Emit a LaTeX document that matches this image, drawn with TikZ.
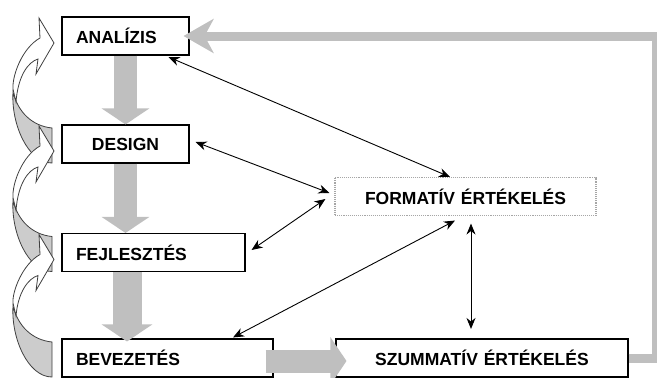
\documentclass[tikz,border=0pt]{standalone}
\usepackage{fontspec}
\setmainfont{Liberation Sans}
\usetikzlibrary{arrows.meta}

\begin{document}
\begin{tikzpicture}[x=1pt, y=-1pt,
  box/.style={draw, line width=1.1pt, fill=white, minimum height=38pt, inner xsep=14pt, inner ysep=0pt, align=left, font=\bfseries\fontsize{17.5}{20}\selectfont},
  fbox/.style={box, draw=gray!70, densely dotted, align=center},
  flow/.style={draw=gray!50, line width=23pt, -{Triangle[length=16pt,width=47pt]}},
  dbl/.style={line width=0.9pt, {Stealth[length=11pt,width=9pt]}-{Stealth[length=11pt,width=9pt]}},
  fb/.style={draw=gray!50, line width=9pt},
  back/.style={fill=gray!40, draw=black!75, line width=0.8pt},
  front/.style={fill=white, draw=black!75, line width=0.8pt}]
    \useasboundingbox (0,0) rectangle (657,378);

    % curved arrows on the left
    \foreach \yu/\yl in {36/144, 144/252.5, 252.5/358} {
      \filldraw[back] (52,\yl-16) .. controls (32,\yl-18) and (18,\yl-32) .. (13,\yl-52) .. controls (11,\yl-20) and (28,\yl+19) .. (52,\yl+19) -- cycle;
      \filldraw[front] (16,\yl-42) .. controls (18,\yu+40) and (28,\yu+26) .. (38,\yu+23) -- (36,\yu+38) -- (54,\yu+7) -- (39,\yu-18) -- (40,\yu+2) .. controls (22,\yu+12) and (12,\yu+40) .. (13,\yl-55) -- cycle;
    }

    \node[box, text width=99pt] (ana) at (125.5,36) {ANALÍZIS};
    \node[box, text width=99pt, align=center] (des) at (125.5,144) {DESIGN};
    \node[box, text width=155pt] (fej) at (153.5,252.5) {FEJLESZTÉS};
    \node[box, text width=183pt] (bev) at (167.5,358) {BEVEZETÉS};
    \node[box, text width=264pt, align=center] (szu) at (482,358) {SZUMMATÍV ÉRTÉKELÉS};
    \node[fbox, text width=233pt] (form) at (465.5,196.5) {FORMATÍV ÉRTÉKELÉS};

    \draw[flow] (ana.south) -- (des.north);
    \draw[flow] (des.south) -- (des.south |- fej.north);
    \draw[flow, line width=29pt, -{Triangle[length=17pt,width=50pt]}] ([xshift=1.5pt]des.south |- fej.south) -- ([shift={(1.5,3)}]des.south |- bev.north);
    \draw[flow] ([shift={(-8,3)}]bev.east) -- ([shift={(11,3)}]szu.west);

    % feedback line
    \coordinate (c1) at (654.5,358);
    \coordinate (c2) at (654.5,36);
    \draw[fb] (szu.east) -- (c1);
    \draw[fb, line width=4.5pt] ([yshift=-4.5pt]c1) -- ([yshift=4.5pt]c2);
    \draw[fb, -{Stealth[length=30pt,width=34pt,inset=9pt]}] (c2) -- ([xshift=-6pt]ana.east);

    \draw[dbl] ([shift={(-21,1.5)}]ana.south east) -- ([xshift=-15.5pt]form.north);
    \draw[dbl] ([shift={(6,-2)}]des.east) -- ([shift={(-5,-3.5)}]form.west);
    \draw[dbl] ([shift={(6,-2.5)}]fej.east) -- ([shift={(-9,2.5)}]form.west);
    \draw[dbl] ([shift={(65.5,-1)}]bev.north) -- ([shift={(-10.5,4.5)}]form.south);
    \draw[dbl] ([shift={(5.5,7.5)}]form.south) -- ([shift={(-11,-9.5)}]szu.north);
\end{tikzpicture}
\end{document}
